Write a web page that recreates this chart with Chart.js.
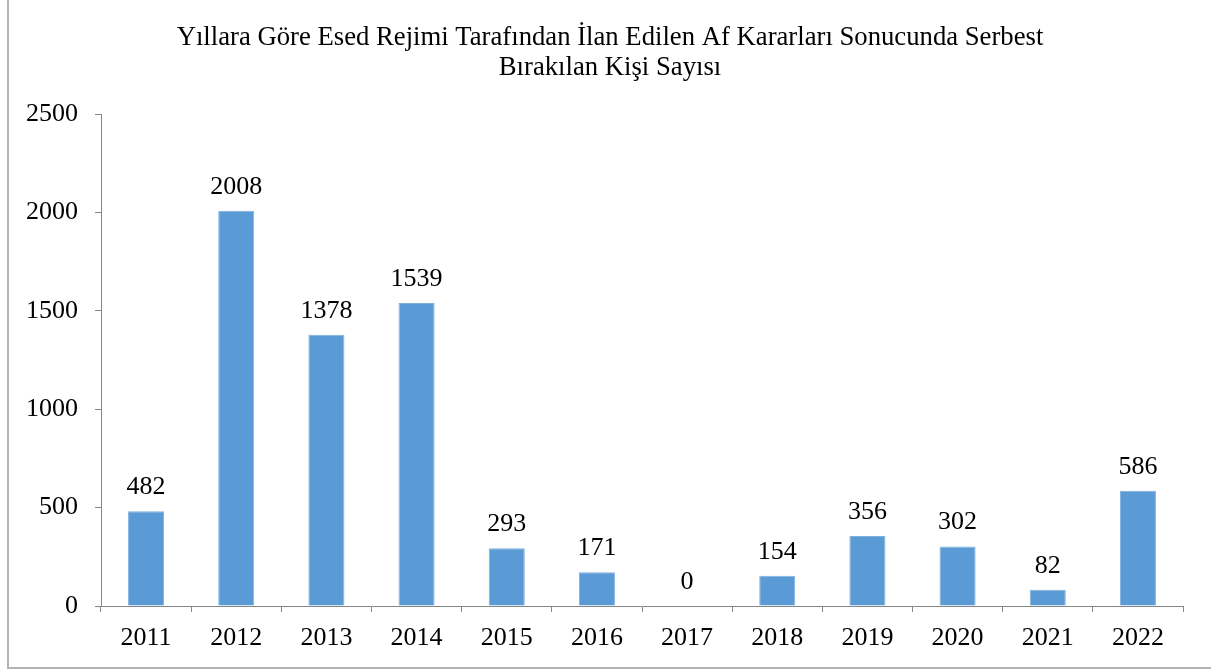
<!DOCTYPE html>
<html>
<head>
<meta charset="utf-8">
<script src="https://cdn.jsdelivr.net/npm/chart.js@4.4.1/dist/chart.umd.min.js"></script>
<style>
  html, body { margin: 0; padding: 0; background: #fff; }
  #wrap { position: absolute; left: 0; top: 0; width: 1211px; height: 672px; }
  #frame { position: absolute; left: 7px; top: -5px; width: 1220px; height: 674px; border: 2px solid #b3b3b3; box-sizing: border-box; pointer-events: none; }
</style>
</head>
<body>
<div id="wrap">
  <canvas id="c" width="1211" height="672"></canvas>
  <div id="frame"></div>
</div>
<script>
const titleLines = ["Yıllara Göre Esed Rejimi Tarafından İlan Edilen Af Kararları Sonucunda Serbest", "Bırakılan Kişi Sayısı"];
const years = ["2011","2012","2013","2014","2015","2016","2017","2018","2019","2020","2021","2022"];
const released = [482, 2008, 1378, 1539, 293, 171, 0, 154, 356, 302, 82, 586];
const yTicks = [0, 500, 1000, 1500, 2000, 2500];

const FONT = "'Liberation Serif', 'Times New Roman', serif";

const valueLabels = {
  id: 'valueLabels',
  afterDatasetsDraw(chart) {
    const ctx = chart.ctx;
    const meta = chart.getDatasetMeta(0);
    ctx.save();
    ctx.font = "26px " + FONT;
    ctx.fillStyle = '#000';
    ctx.textAlign = 'center';
    ctx.textBaseline = 'bottom';
    meta.data.forEach((bar, i) => {
      ctx.fillText(String(chart.data.datasets[0].data[i]), bar.x, bar.y - 11);
    });
    ctx.restore();
  }
};

const titleDraw = {
  id: 'titleDraw',
  afterDraw(chart) {
    const ctx = chart.ctx;
    ctx.save();
    ctx.font = "26.7px " + FONT;
    ctx.fillStyle = '#000';
    ctx.textAlign = 'center';
    ctx.textBaseline = 'middle';
    const cx = 610;
    titleLines.forEach((line, i) => ctx.fillText(line, cx, 38 + i * 30));
    ctx.restore();
  }
};

new Chart(document.getElementById('c'), {
  type: 'bar',
  data: {
    labels: years,
    datasets: [{
      data: released,
      backgroundColor: '#5B9BD5',
      borderColor: '#7fb1df',
      borderWidth: 1,
      barPercentage: 0.4,
      categoryPercentage: 1.0
    }]
  },
  options: {
    responsive: false,
    animation: false,
    layout: { padding: { left: 0, right: 28, top: 114, bottom: 0 } },
    plugins: {
      legend: { display: false },
      tooltip: { enabled: false },
      title: { display: false }
    },
    scales: {
      x: {
        grid: { display: true, drawOnChartArea: false, drawTicks: true, tickLength: 6, color: '#868686', offset: true },
        border: { display: true, color: '#868686', width: 1 },
        ticks: { color: '#000', font: { family: FONT, size: 26 }, padding: 11, maxRotation: 0 },
        afterFit(scale) { scale.height = 66; }
      },
      y: {
        min: 0, max: 2500,
        afterBuildTicks(scale) { scale.ticks = yTicks.map(v => ({ value: v })); },
        grid: { display: true, drawOnChartArea: false, drawTicks: true, tickLength: 6, color: '#868686' },
        border: { display: true, color: '#868686', width: 1 },
        ticks: { color: '#000', font: { family: FONT, size: 26 }, padding: 17, callback: v => String(v) },
        afterFit(scale) { scale.width = 101; }
      }
    }
  },
  plugins: [valueLabels, titleDraw]
});
</script>
</body>
</html>
